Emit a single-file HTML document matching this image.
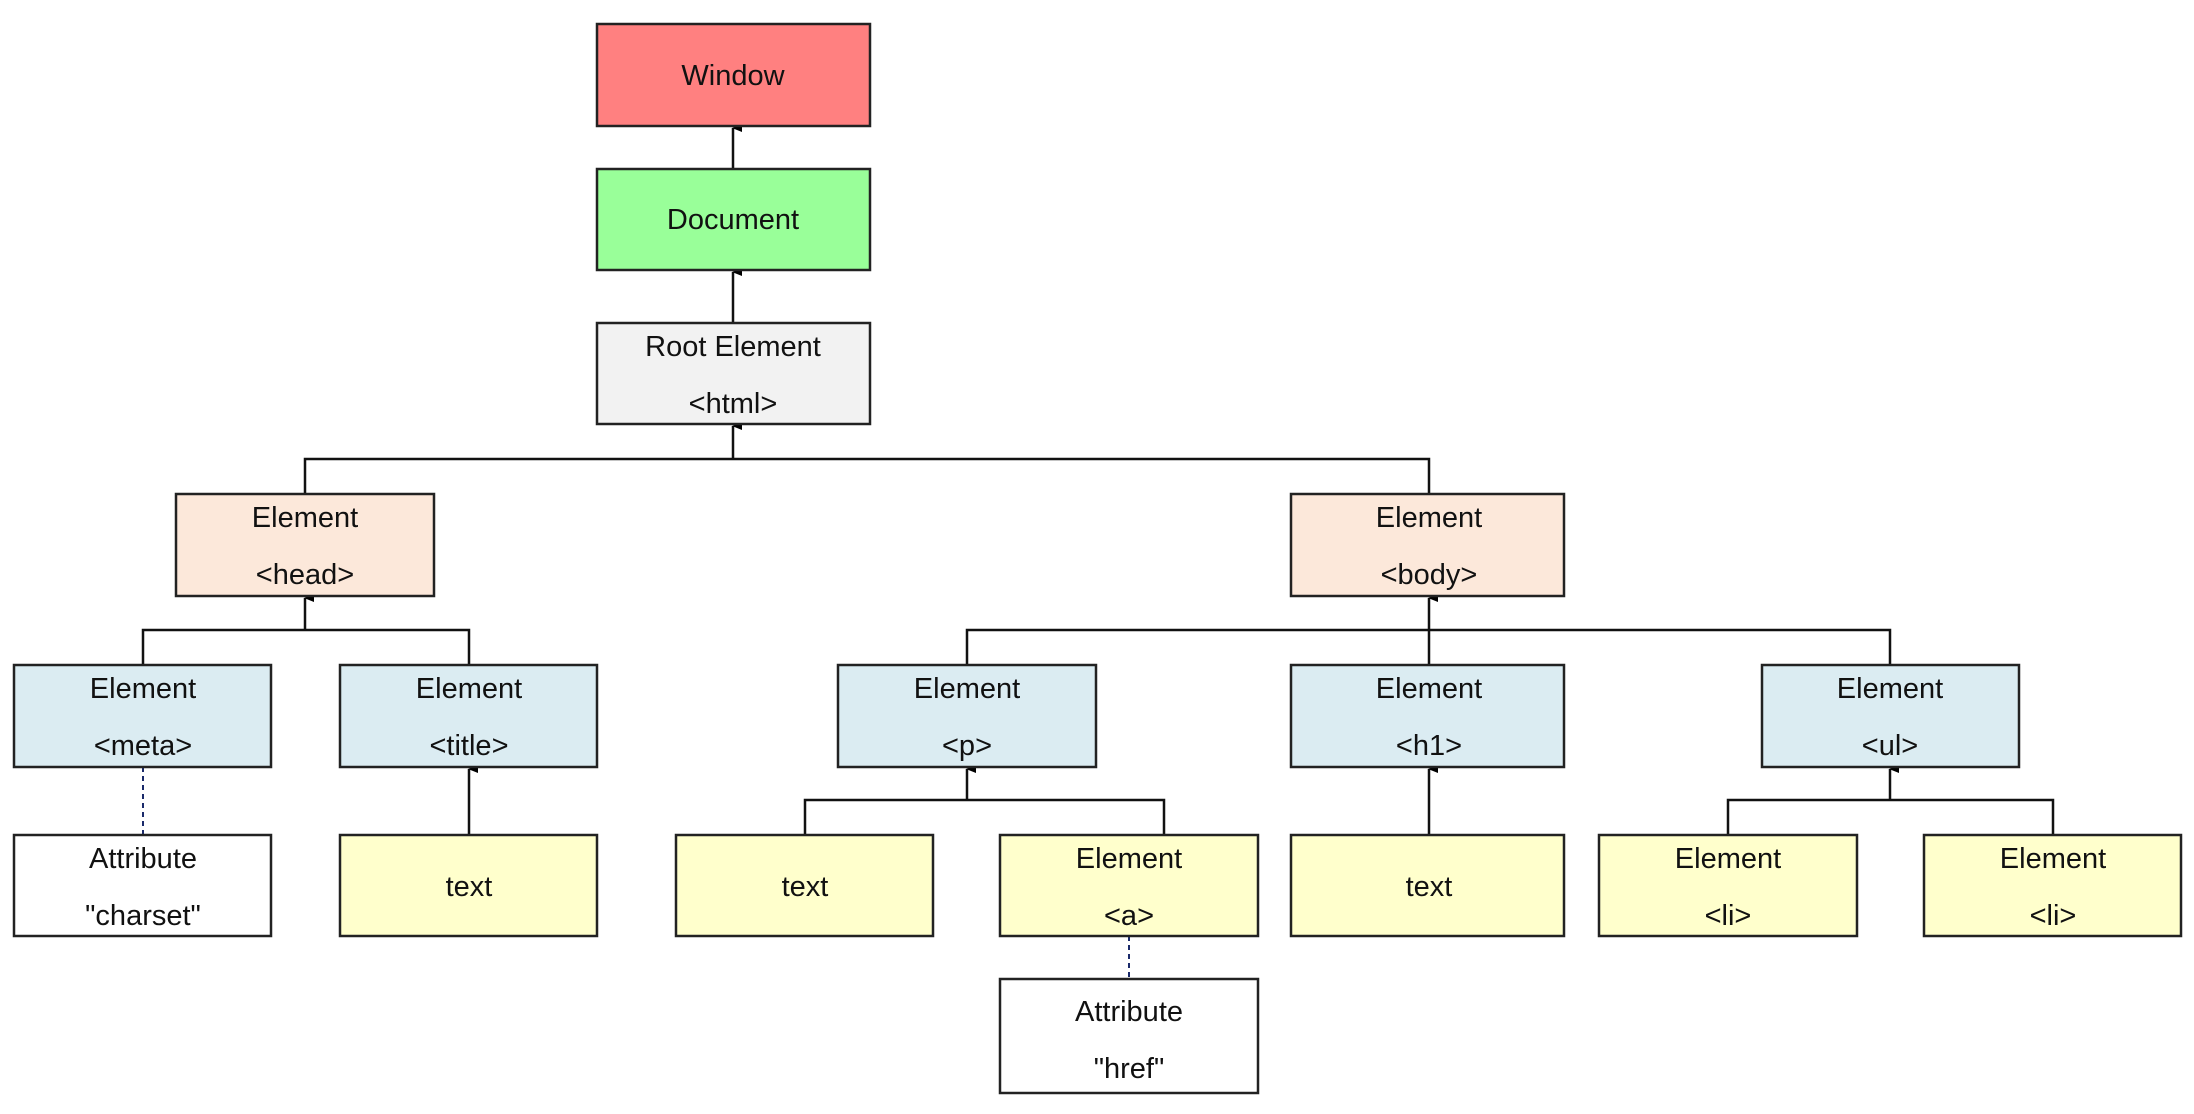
<!DOCTYPE html>
<html><head><meta charset="utf-8"><style>
html,body{margin:0;padding:0;background:#fff;width:2194px;height:1114px;overflow:hidden}
text{font-family:"Liberation Sans","DejaVu Sans",sans-serif;font-size:29px;fill:#111;text-anchor:middle}
</style></head><body>
<svg width="2194" height="1114" viewBox="0 0 2194 1114" xmlns="http://www.w3.org/2000/svg">
<defs><marker id="ah" markerWidth="10" markerHeight="10" refX="5" refY="1" orient="auto" markerUnits="userSpaceOnUse" viewBox="0 0 10 10">
<path d="M1,10 L5,0 L9,10 Z" fill="#000"/></marker></defs>
<g stroke="#111" stroke-width="2.5" fill="none">
<!-- window-document-root -->
<line x1="733" y1="169" x2="733" y2="128" marker-end="url(#ah)"/>
<line x1="733" y1="323" x2="733" y2="272" marker-end="url(#ah)"/>
<!-- root children -->
<polyline points="305,494 305,459 1429,459 1429,494"/>
<line x1="733" y1="459" x2="733" y2="426" marker-end="url(#ah)"/>
<!-- head children -->
<polyline points="143,665 143,630 469,630 469,665"/>
<line x1="305" y1="630" x2="305" y2="598" marker-end="url(#ah)"/>
<!-- body children -->
<polyline points="967,665 967,630 1890,630 1890,665"/>
<line x1="1429" y1="665" x2="1429" y2="598" marker-end="url(#ah)"/>
<!-- title text -->
<line x1="469" y1="835" x2="469" y2="769" marker-end="url(#ah)"/>
<!-- p children -->
<polyline points="805,835 805,800 1164,800 1164,835"/>
<line x1="967" y1="800" x2="967" y2="769" marker-end="url(#ah)"/>
<!-- h1 text -->
<line x1="1429" y1="835" x2="1429" y2="769" marker-end="url(#ah)"/>
<!-- ul children -->
<polyline points="1728,835 1728,800 2053,800 2053,835"/>
<line x1="1890" y1="800" x2="1890" y2="769" marker-end="url(#ah)"/>
</g>
<g stroke="#1a2a6a" stroke-width="2" stroke-dasharray="5,4">
<line x1="143" y1="767" x2="143" y2="835"/>
<line x1="1129" y1="936" x2="1129" y2="979"/>
</g>
<g stroke="#222" stroke-width="2.5">
<rect x="597" y="24" width="273" height="102" fill="#ff8080"/>
<rect x="597" y="169" width="273" height="101" fill="#99ff99"/>
<rect x="597" y="323" width="273" height="101" fill="#f2f2f2"/>
<rect x="176" y="494" width="258" height="102" fill="#fce8da"/>
<rect x="1291" y="494" width="273" height="102" fill="#fce8da"/>
<rect x="14" y="665" width="257" height="102" fill="#dbecf2"/>
<rect x="340" y="665" width="257" height="102" fill="#dbecf2"/>
<rect x="838" y="665" width="258" height="102" fill="#dbecf2"/>
<rect x="1291" y="665" width="273" height="102" fill="#dbecf2"/>
<rect x="1762" y="665" width="257" height="102" fill="#dbecf2"/>
<rect x="14" y="835" width="257" height="101" fill="#fff"/>
<rect x="340" y="835" width="257" height="101" fill="#ffffcc"/>
<rect x="676" y="835" width="257" height="101" fill="#ffffcc"/>
<rect x="1000" y="835" width="258" height="101" fill="#ffffcc"/>
<rect x="1291" y="835" width="273" height="101" fill="#ffffcc"/>
<rect x="1599" y="835" width="258" height="101" fill="#ffffcc"/>
<rect x="1924" y="835" width="257" height="101" fill="#ffffcc"/>
<rect x="1000" y="979" width="258" height="114" fill="#fff"/>
</g>
<text x="733" y="85">Window</text>
<text x="733" y="229">Document</text>
<text x="733" y="356">Root Element</text><text x="733" y="413">&lt;html&gt;</text>
<text x="305" y="527">Element</text><text x="305" y="584">&lt;head&gt;</text>
<text x="1429" y="527">Element</text><text x="1429" y="584">&lt;body&gt;</text>
<text x="143" y="698">Element</text><text x="143" y="755">&lt;meta&gt;</text>
<text x="469" y="698">Element</text><text x="469" y="755">&lt;title&gt;</text>
<text x="967" y="698">Element</text><text x="967" y="755">&lt;p&gt;</text>
<text x="1429" y="698">Element</text><text x="1429" y="755">&lt;h1&gt;</text>
<text x="1890" y="698">Element</text><text x="1890" y="755">&lt;ul&gt;</text>
<text x="143" y="868">Attribute</text><text x="143" y="925">"charset"</text>
<text x="469" y="896">text</text>
<text x="805" y="896">text</text>
<text x="1129" y="868">Element</text><text x="1129" y="925">&lt;a&gt;</text>
<text x="1429" y="896">text</text>
<text x="1728" y="868">Element</text><text x="1728" y="925">&lt;li&gt;</text>
<text x="2053" y="868">Element</text><text x="2053" y="925">&lt;li&gt;</text>
<text x="1129" y="1021">Attribute</text><text x="1129" y="1078">"href"</text>
</svg>
</body></html>
